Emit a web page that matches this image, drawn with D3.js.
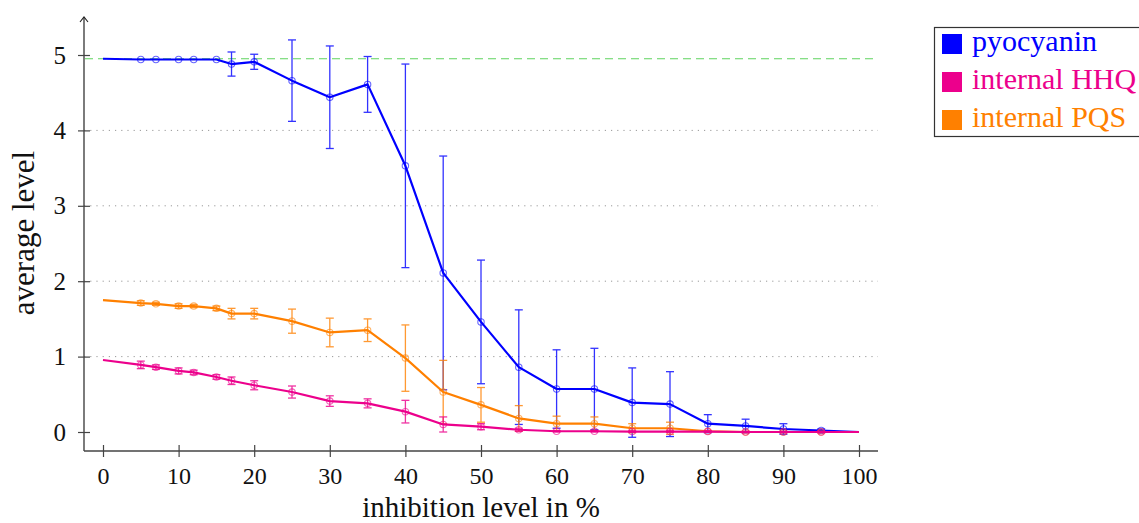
<!DOCTYPE html>
<html>
<head>
<meta charset="utf-8">
<script src="https://cdn.jsdelivr.net/npm/d3@7"></script>
<style>
  html, body { margin: 0; padding: 0; background: #fff; }
  svg text { font-family: "Liberation Serif", "DejaVu Serif", serif; }
</style>
</head>
<body>
<svg id="chart" width="1139" height="523"></svg>
<script>
// inhibition levels (%)
const inhibition = [0, 5, 7, 10, 12, 15, 17, 20, 25, 30, 35, 40, 45, 50, 55, 60, 65, 70, 75, 80, 85, 90, 95, 100];

// average levels and their standard deviations
const pyocyanin    = [4.95, 4.94, 4.94, 4.94, 4.94, 4.94, 4.88, 4.91, 4.66, 4.44, 4.61, 3.53, 2.11, 1.46, 0.86, 0.57, 0.57, 0.39, 0.37, 0.11, 0.08, 0.04, 0.02, 0.0];
const pyocyaninErr = [0, 0, 0, 0, 0, 0, 0.16, 0.10, 0.54, 0.68, 0.37, 1.35, 1.55, 0.82, 0.76, 0.52, 0.54, 0.46, 0.43, 0.12, 0.09, 0.07, 0.02, 0];
const hhq          = [0.955, 0.89, 0.86, 0.81, 0.79, 0.73, 0.68, 0.62, 0.53, 0.41, 0.38, 0.27, 0.10, 0.07, 0.03, 0.01, 0.01, 0.005, 0.005, 0.005, 0, 0, 0, 0];
const hhqErr       = [0, 0.05, 0.03, 0.04, 0.03, 0.03, 0.05, 0.06, 0.08, 0.07, 0.06, 0.15, 0.10, 0.04, 0.02, 0.01, 0.01, 0.01, 0.01, 0.01, 0.01, 0.01, 0.01, 0];
const pqs          = [1.75, 1.71, 1.70, 1.67, 1.67, 1.64, 1.57, 1.57, 1.47, 1.32, 1.35, 0.98, 0.53, 0.36, 0.18, 0.11, 0.11, 0.05, 0.05, 0.01, 0, 0, 0, 0];
const pqsErr       = [0, 0.03, 0.02, 0.03, 0.02, 0.03, 0.07, 0.07, 0.16, 0.19, 0.15, 0.44, 0.42, 0.23, 0.17, 0.10, 0.09, 0.06, 0.08, 0.01, 0.01, 0.01, 0.01, 0];

// reference level of the untreated pyocyanin production
const baseline = 4.95;

const xTicks = [0, 10, 20, 30, 40, 50, 60, 70, 80, 90, 100];
const yTicks = [0, 1, 2, 3, 4, 5];
const gridValues = [1, 2, 3, 4];

const seriesNames = ["pyocyanin", "internal HHQ", "internal PQS"];
const seriesColors = ["#0000ff", "#ec008c", "#ff8000"];

const series = [
  { name: seriesNames[0], color: seriesColors[0], values: pyocyanin, err: pyocyaninErr },
  { name: seriesNames[2], color: seriesColors[2], values: pqs, err: pqsErr },
  { name: seriesNames[1], color: seriesColors[1], values: hhq, err: hhqErr }
];

const svg = d3.select("#chart");
const axisColor = "#444";

const x = d3.scaleLinear().domain([0, 100]).range([103, 859]);
const y = d3.scaleLinear().domain([0, 5]).range([432, 55]);

const frameLeft = 84, frameRight = 878, frameBottom = 451, frameTop = 17;

// dotted horizontal grid
svg.append("g").selectAll("line").data(gridValues).join("line")
  .attr("x1", frameLeft).attr("x2", frameRight)
  .attr("y1", d => y(d)).attr("y2", d => y(d))
  .attr("stroke", "#999").attr("stroke-width", 1)
  .attr("stroke-dasharray", "1.2,5");

// baseline level
svg.append("line")
  .attr("x1", frameLeft + 1).attr("x2", frameRight)
  .attr("y1", y(baseline)).attr("y2", y(baseline))
  .attr("stroke", "#5fd35f").attr("stroke-width", 1.2)
  .attr("stroke-dasharray", "8,5");

// axes
const xAxis = svg.append("g")
  .attr("transform", `translate(0,${frameBottom - 6})`)
  .call(d3.axisBottom(x).tickValues(xTicks).tickSize(12).tickFormat(d3.format("d")));
xAxis.select(".domain").remove();
xAxis.selectAll(".tick line").attr("stroke", axisColor).attr("stroke-width", 1.2);
xAxis.selectAll(".tick text")
  .attr("y", 39).attr("dy", 0)
  .attr("fill", "#111").style("font-size", "24px");

const yAxis = svg.append("g")
  .attr("transform", `translate(${frameLeft + 6},0)`)
  .call(d3.axisLeft(y).tickValues(yTicks).tickSize(12).tickFormat(d3.format("d")));
yAxis.select(".domain").remove();
yAxis.selectAll(".tick line").attr("stroke", axisColor).attr("stroke-width", 1.2);
yAxis.selectAll(".tick text")
  .attr("x", -24).attr("dy", "0.32em")
  .attr("fill", "#111").style("font-size", "25px");

svg.append("line")
  .attr("x1", frameLeft).attr("x2", frameRight).attr("y1", frameBottom).attr("y2", frameBottom)
  .attr("stroke", axisColor).attr("stroke-width", 1.4);
svg.append("line")
  .attr("x1", frameLeft).attr("x2", frameLeft).attr("y1", frameBottom).attr("y2", frameTop)
  .attr("stroke", axisColor).attr("stroke-width", 1.4);
svg.append("path")
  .attr("d", `M${frameLeft - 4},${frameTop + 5} L${frameLeft},${frameTop} L${frameLeft + 4},${frameTop + 5}`)
  .attr("fill", "none").attr("stroke", "#222").attr("stroke-width", 1.1);

// axis titles
svg.append("text")
  .attr("x", 481).attr("y", 516.5)
  .attr("text-anchor", "middle")
  .style("font-size", "29px").attr("fill", "#111")
  .text("inhibition level in %");
svg.append("text")
  .attr("transform", `translate(34,233) rotate(-90)`)
  .attr("text-anchor", "middle")
  .style("font-size", "31px").attr("fill", "#111")
  .text("average level");

// series
const line = d3.line().x(d => x(d.x)).y(d => y(d.v));

series.forEach(s => {
  const pts = inhibition.map((xv, i) => ({ x: xv, v: s.values[i], e: s.err[i] }));
  const g = svg.append("g");
  const marked = pts.filter(p => p.x !== 0 && p.x !== 100);

  // error bars
  const eb = g.append("g").attr("stroke", s.color).attr("stroke-width", 1.3).attr("opacity", 0.8);
  marked.filter(p => p.e > 0).forEach(p => {
    const cx = x(p.x), y1 = y(p.v + p.e), y2 = y(p.v - p.e);
    eb.append("line").attr("x1", cx).attr("x2", cx).attr("y1", y1).attr("y2", y2);
    eb.append("line").attr("x1", cx - 4).attr("x2", cx + 4).attr("y1", y1).attr("y2", y1);
    eb.append("line").attr("x1", cx - 4).attr("x2", cx + 4).attr("y1", y2).attr("y2", y2);
  });

  g.append("path").datum(pts)
    .attr("d", line)
    .attr("fill", "none").attr("stroke", s.color).attr("stroke-width", 2.2)
    .attr("stroke-linejoin", "round");

  g.append("g").selectAll("circle").data(marked).join("circle")
    .attr("cx", d => x(d.x)).attr("cy", d => y(d.v)).attr("r", 3.2)
    .attr("fill", "none").attr("stroke", s.color).attr("stroke-width", 1.1)
    .attr("opacity", 0.6);
});

// legend
const legend = svg.append("g");
legend.append("rect")
  .attr("x", 934.5).attr("y", 27.5).attr("width", 240).attr("height", 109)
  .attr("fill", "#fff").attr("stroke", "#333").attr("stroke-width", 1.2);
seriesNames.forEach((name, i) => {
  const ty = 34 + i * 38;
  legend.append("rect")
    .attr("x", 942).attr("y", ty).attr("width", 20).attr("height", 20)
    .attr("fill", seriesColors[i]);
  legend.append("text")
    .attr("x", 972).attr("y", ty + 17)
    .attr("fill", seriesColors[i])
    .style("font-size", "30px")
    .text(name);
});
</script>
</body>
</html>
